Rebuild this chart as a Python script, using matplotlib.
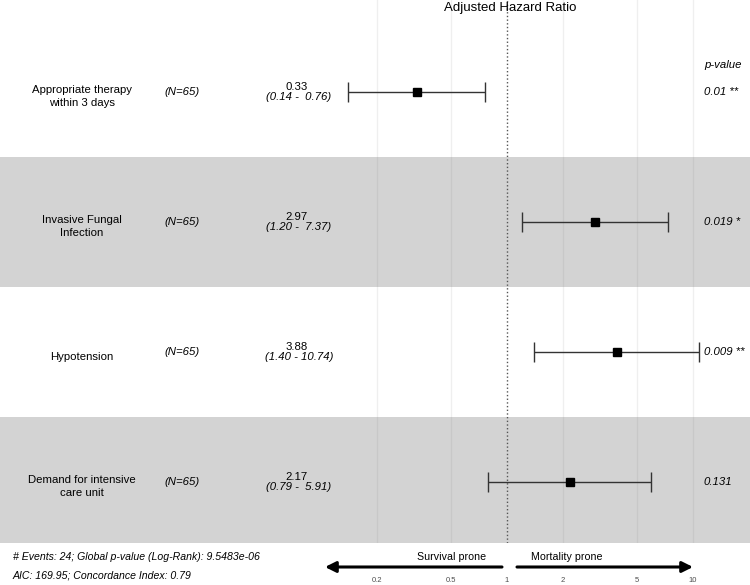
"""
Forest plot of adjusted hazard ratios (Cox model)
"""

import numpy as np
import matplotlib
matplotlib.use("Agg")
import matplotlib.pyplot as plt
import matplotlib.transforms as mtransforms

plt.rcParams['font.family'] = ['Liberation Sans', 'DejaVu Sans']

# DATA
variables = ["Appropriate therapy\nwithin 3 days", "Invasive Fungal\nInfection",
             "Hypotension", "Demand for intensive\ncare unit"]
n_obs = [65, 65, 65, 65]
hr = [0.33, 2.97, 3.88, 2.17]
ci_low = [0.14, 1.20, 1.40, 0.79]
ci_high = [0.76, 7.37, 10.74, 5.91]
p_labels = ["0.01 **", "0.019 *", "0.009 **", "0.131"]
x_ticks = [0.2, 0.5, 1, 2, 5, 10]
x_tick_labels = ["0.2", "0.5", "1", "2", "5", "10"]
footer = ["# Events: 24; Global p-value (Log-Rank): 9.5483e-06",
          "AIC: 169.95; Concordance Index: 0.79"]

# layout helpers (pixels of the 750x585 picture)
W, H = 750, 585
def px_to_x(px):
    return 10 ** (np.log10(0.2) + (px - 377) / 186)
def px_to_row(py):
    return 1 + (py - 92) / 130
def fig_y(py):
    return 1 - py / H

fig = plt.figure(figsize=(7.5, 5.85), dpi=100)
ax = fig.add_axes([0, 1 - 543 / H, 1, 543 / H])
ax.set_xscale('log')
ax.set_xlim(px_to_x(0), px_to_x(W))
ax.set_ylim(px_to_row(543), px_to_row(0))
ax.axis('off')

rows = np.arange(1, len(hr) + 1)

# alternating shading
for r in rows:
    if r % 2 == 0:
        ax.axhspan(r - 0.5, r + 0.5, color='#d3d3d3', zorder=0, lw=0)

# grid
for t in x_ticks:
    if t != 1:
        ax.axvline(t, color='gray', alpha=0.12, lw=1, zorder=1)
ax.axvline(1, color='#555555', ls=':', lw=1, zorder=2)

# estimates + CI
hr_a = np.array(hr)
xerr = [hr_a - np.array(ci_low), np.array(ci_high) - hr_a]
ax.errorbar(hr, rows, xerr=xerr, fmt='s', color='black', ecolor='#333333',
            elinewidth=1, capsize=7, capthick=1, markersize=6, zorder=3)

# text columns
fs = 8.2
for i, r in enumerate(rows):
    ax.text(px_to_x(82), r + 0.035, variables[i], ha='center', va='center',
            fontsize=fs, linespacing=1.4)
    ax.text(px_to_x(182), r, "(N=%d)" % n_obs[i], ha='center', va='center',
            fontsize=fs, style='italic')
    ax.text(px_to_x(297), r - 0.037, "%.2f" % hr[i], ha='center', va='center',
            fontsize=fs)
    ax.text(px_to_x(299), r + 0.04, "(%4.2f - %5.2f)" % (ci_low[i], ci_high[i]),
            ha='center', va='center', fontsize=fs, style='italic')
    ax.text(px_to_x(704), r, p_labels[i], ha='left', va='center',
            fontsize=fs, style='italic')
ax.text(px_to_x(704), px_to_row(65), "p-value", ha='left', va='center',
        fontsize=fs, style='italic')

# title
fig.text(510 / W, fig_y(8), "Adjusted Hazard Ratio", ha='center', va='center',
         fontsize=9.5)

# bottom area: tick labels, arrows, footer
blend = mtransforms.blended_transform_factory(ax.transData, fig.transFigure)
for t, lab in zip(x_ticks, x_tick_labels):
    fig.text(t, fig_y(581), lab, transform=blend, ha='center', va='center',
             fontsize=5.5, color='#4d4d4d')

ax.annotate('', xy=(px_to_x(325), fig_y(567)), xytext=(px_to_x(502), fig_y(567)),
            xycoords=blend, textcoords=blend, annotation_clip=False,
            arrowprops=dict(arrowstyle='-|>', lw=2.2, color='black',
                            mutation_scale=16, shrinkA=0, shrinkB=0))
ax.annotate('', xy=(px_to_x(693), fig_y(567)), xytext=(px_to_x(517), fig_y(567)),
            xycoords=blend, textcoords=blend, annotation_clip=False,
            arrowprops=dict(arrowstyle='-|>', lw=2.2, color='black',
                            mutation_scale=16, shrinkA=0, shrinkB=0))
fig.text(px_to_x(452), fig_y(557), "Survival prone", transform=blend,
         ha='center', va='center', fontsize=7.7)
fig.text(px_to_x(567), fig_y(557), "Mortality prone", transform=blend,
         ha='center', va='center', fontsize=7.7)

fig.text(13 / W, fig_y(557), footer[0], ha='left', va='center', fontsize=7.6,
         style='italic')
fig.text(13 / W, fig_y(575), footer[1], ha='left', va='center', fontsize=7.6,
         style='italic')

fig.savefig("out.png", dpi=100)
